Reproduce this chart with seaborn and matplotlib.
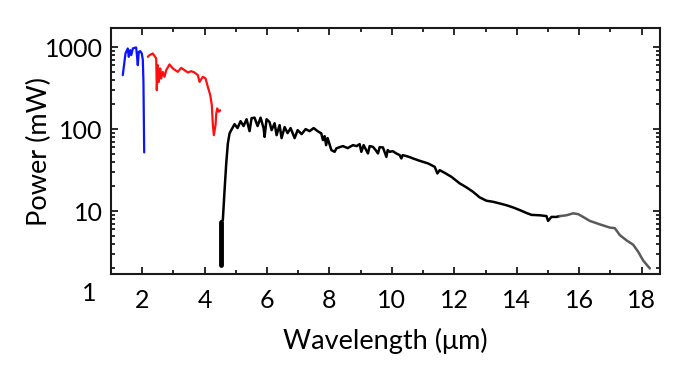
import matplotlib
matplotlib.use("Agg")
import matplotlib.pyplot as plt
import matplotlib.ticker as ticker
from matplotlib.transforms import blended_transform_factory
import seaborn as sns
import pandas as pd

# blue segment (short wavelength)
blue_x = [1.378, 1.465, 1.538, 1.570, 1.615, 1.650, 1.700, 1.753, 1.808, 1.859,
          1.891, 1.936, 1.987, 2.020, 2.040, 2.064]
blue_y = [456, 838, 964, 762, 919, 800, 964, 980, 991, 603,
          876, 894, 838, 700, 377, 52]

# red segment
red_x = [2.180, 2.234, 2.340, 2.449, 2.468, 2.500, 2.532, 2.577, 2.609, 2.660,
         2.715, 2.769, 2.875, 2.981, 3.141, 3.250, 3.356, 3.462, 3.571, 3.677,
         3.783, 3.837, 3.943, 4.030, 4.103, 4.180, 4.231, 4.264, 4.296, 4.350,
         4.373, 4.405, 4.456, 4.500]
red_y = [762, 799, 838, 728, 299, 603, 377, 550, 415, 500,
         435, 524, 615, 550, 500, 559, 524, 491, 509, 491,
         456, 377, 435, 415, 328, 260, 196, 112, 84.5, 112,
         155, 179, 163, 170]

# black vertical bar at the start of the black trace
bar_x = [4.533, 4.533]
bar_y = [2.2, 7.4]

# black trace
black_x = [4.533, 4.584, 4.639, 4.693, 4.744, 4.799, 4.853, 4.959, 5.055, 5.152,
           5.248, 5.344, 5.440, 5.504, 5.600, 5.697, 5.793, 5.889, 5.921, 5.985,
           6.081, 6.146, 6.242, 6.306, 6.402, 6.466, 6.563, 6.659, 6.755, 6.884,
           6.980, 7.108, 7.236, 7.364, 7.493, 7.621, 7.739, 7.791, 7.845, 7.893,
           7.941, 8.060, 8.166, 8.220, 8.326, 8.432, 8.583, 8.752, 8.871, 8.967,
           9.021, 9.095, 9.233, 9.288, 9.393, 9.480, 9.554, 9.608, 9.714, 9.823,
           9.865, 9.929, 10.025, 10.143, 10.249, 10.304, 10.346, 10.464, 10.570, 10.676,
           10.891, 11.157, 11.372, 11.458, 11.532, 11.692, 11.907, 12.173, 12.388, 12.600,
           12.814, 13.029, 13.241, 13.456, 13.670, 13.882, 14.097, 14.312, 14.472, 14.738,
           14.953, 15.004, 15.113, 15.273, 15.379]
black_y = [7.4, 7.8, 18.0, 38.2, 66.9, 88.6, 97.2, 115, 103, 125,
           109, 132, 94.5, 136, 138, 109, 138, 103, 80.5, 132,
           122, 97.2, 118, 84.5, 112, 77.7, 106, 89.4, 103, 77.7,
           97.2, 86.9, 100, 94.5, 103, 94.5, 88.6, 73.5, 82.1, 63.8,
           77.7, 55.5, 52.9, 58.2, 60.3, 62.1, 58.7, 63.8, 62.1, 65.6,
           52.9, 63.8, 50.5, 62.1, 60.8, 55.5, 50.5, 60.3, 59.8, 45.9,
           55.5, 52.9, 53.9, 50.5, 48.2, 43.9, 48.2, 46.9, 45.6, 43.9,
           41.1, 38.2, 34.7, 28.8, 31.6, 29.3, 26.2, 21.8, 19.5, 17.2,
           14.7, 13.4, 13.0, 12.4, 11.8, 11.1, 10.3, 9.5, 9.0, 8.9,
           8.7, 7.6, 8.5, 8.5, 8.7]

# grey tail
grey_x = [15.379, 15.594, 15.806, 15.966, 16.126, 16.341, 16.662, 16.982, 17.142, 17.303,
          17.518, 17.729, 17.890, 18.050, 18.265]
grey_y = [8.7, 8.9, 9.4, 9.2, 8.5, 7.6, 6.9, 6.3, 6.2, 5.1,
          4.4, 3.9, 3.2, 2.5, 2.0]

ytick_vals = [10, 100, 1000]
ytick_labels = ["10", "100", "1000"]
xtick_vals = [2, 4, 6, 8, 10, 12, 14, 16, 18]

sns.set_style("ticks")
plt.rcParams["font.family"] = ["Lato", "DejaVu Sans"]
plt.rcParams["text.color"] = "black"
plt.rcParams["axes.labelcolor"] = "black"
plt.rcParams["xtick.color"] = "black"
plt.rcParams["ytick.color"] = "black"

fig = plt.figure(figsize=(6.98, 3.75), dpi=100)
ax = fig.add_axes([0.159, 0.269, 0.787, 0.656])

series = [
    (blue_x, blue_y, "#0a14ff", 1.6),
    (red_x, red_y, "#ff1010", 1.6),
    (black_x, black_y, "black", 1.8),
    (bar_x, bar_y, "black", 3.5),
    (grey_x, grey_y, "#5a5a5a", 1.8),
]
for xs, ys, col, lw in series:
    df = pd.DataFrame({"wl": xs, "p": ys})
    sns.lineplot(data=df, x="wl", y="p", color=col, lw=lw,
                 estimator=None, sort=False, ax=ax)

ax.set_yscale("log")
ax.set_xlim(1.0, 18.6)
ax.set_ylim(1.705, 1706)
ax.yaxis.set_major_locator(ticker.FixedLocator(ytick_vals))
ax.yaxis.set_major_formatter(ticker.FixedFormatter(ytick_labels))
ax.yaxis.set_minor_locator(ticker.LogLocator(base=10, subs=range(2, 10)))
ax.yaxis.set_minor_formatter(ticker.NullFormatter())
ax.set_xticks(xtick_vals)
ax.xaxis.set_minor_locator(ticker.MultipleLocator(1))

for s in ax.spines.values():
    s.set_visible(True)
    s.set_linewidth(1.5)
    s.set_color("#1a1a1a")

ax.tick_params(which="both", direction="in", top=True, right=True,
               color="#1a1a1a", width=1.3)
ax.tick_params(which="major", length=5)
ax.tick_params(which="minor", length=3)
ax.tick_params(axis="y", which="major", labelsize=18, pad=6)
ax.tick_params(axis="x", which="major", labelsize=18, pad=11)

# the "1" label sits below the plot box
trans = blended_transform_factory(ax.transAxes, ax.transData)
ax.text(-0.027, 1, "1", transform=trans, ha="right", va="center",
        fontsize=18, clip_on=False)

ax.set_xlabel("Wavelength (\u03bcm)", fontsize=19.5, labelpad=11)
ax.set_ylabel("Power (mW)", fontsize=19.5, labelpad=-5)

fig.savefig("out.png", dpi=100)
